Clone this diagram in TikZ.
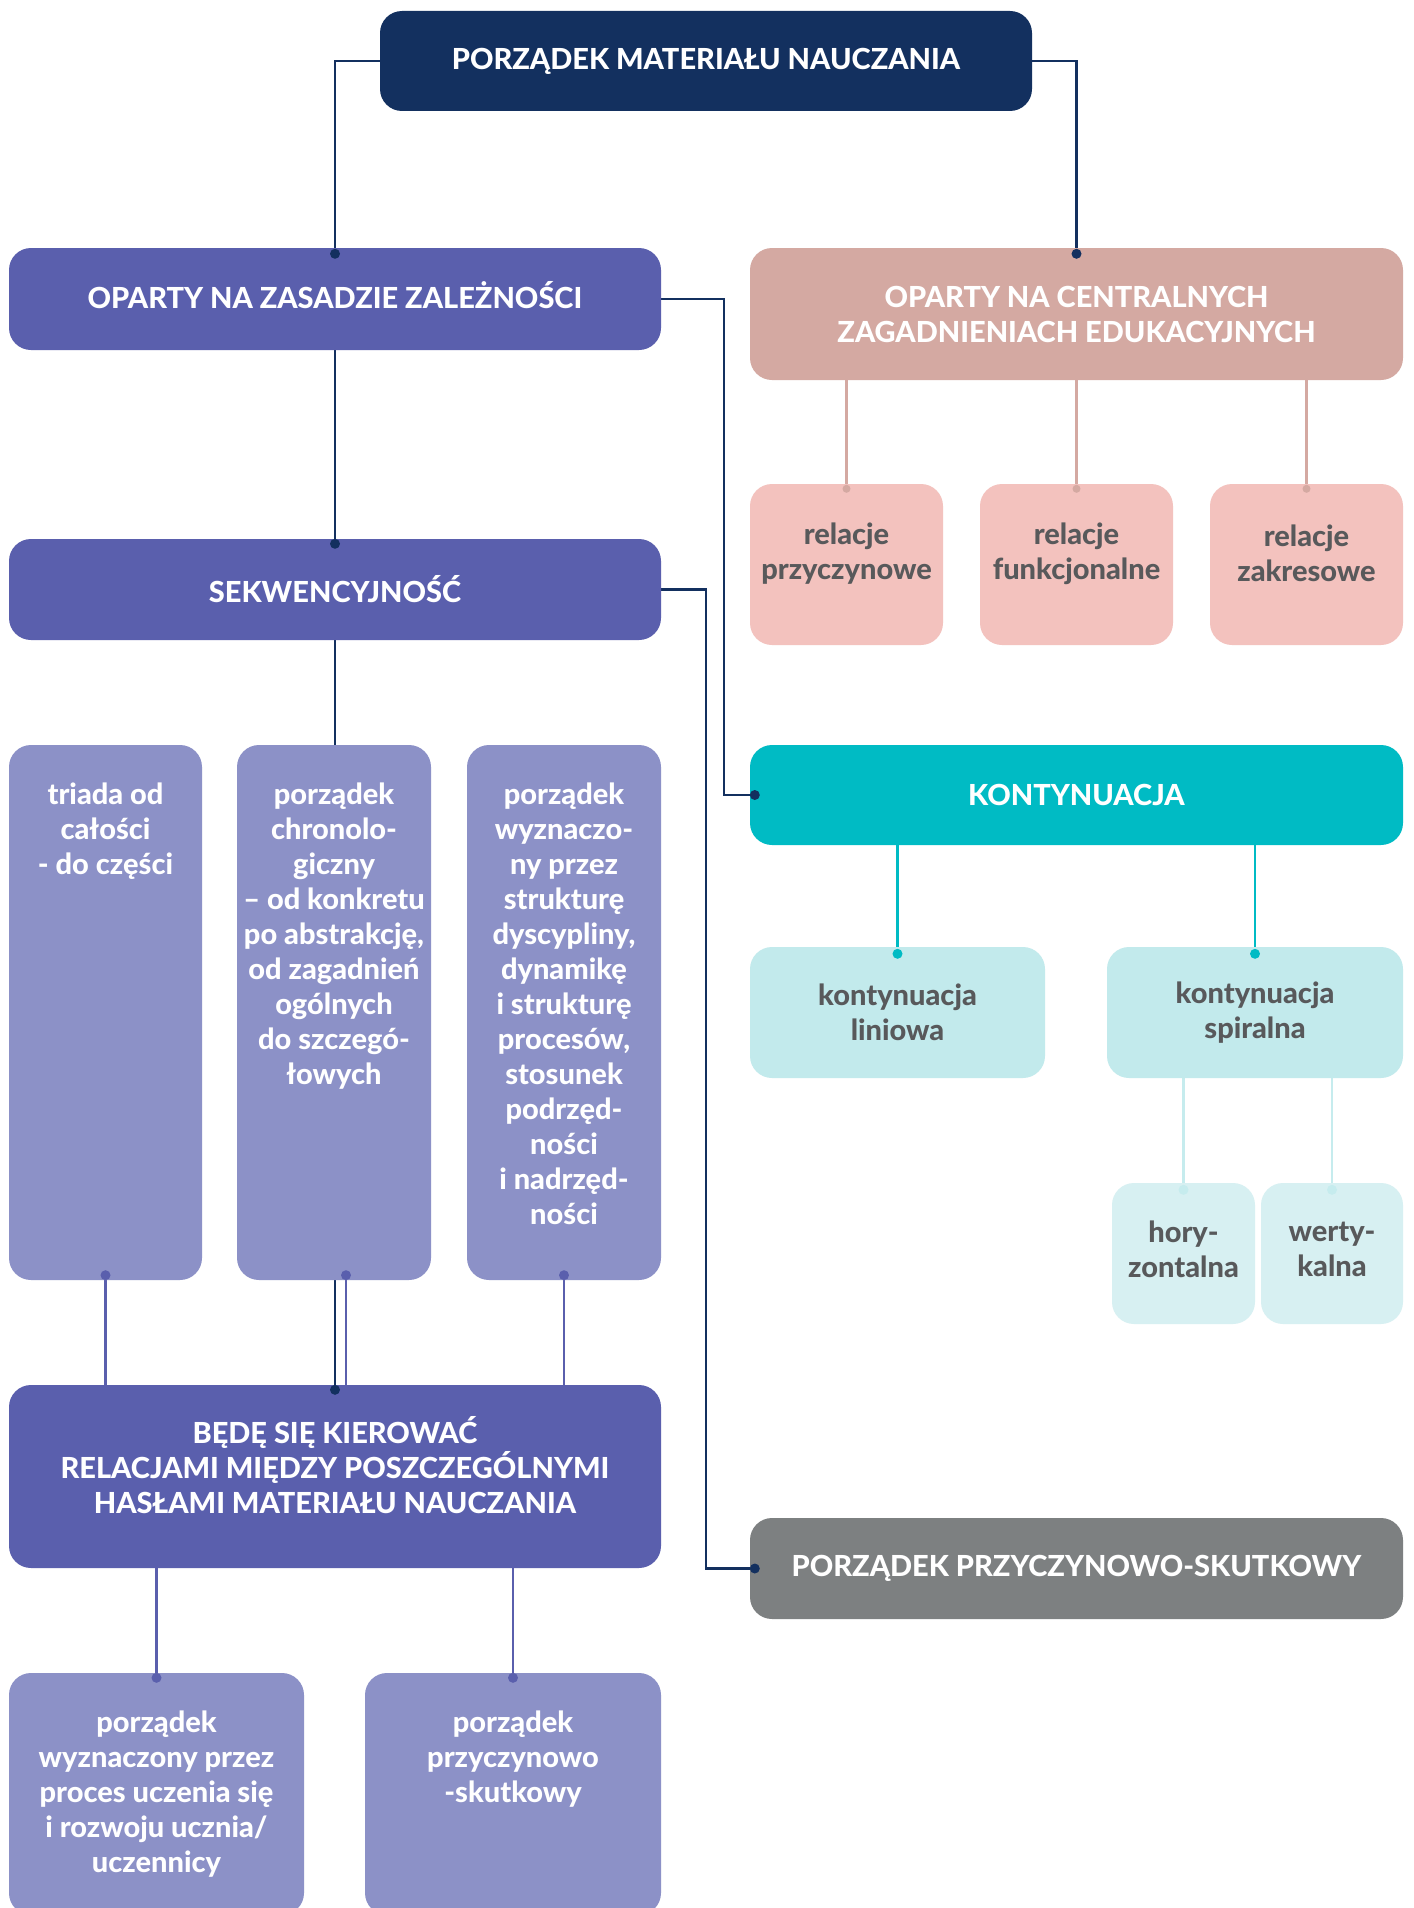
\documentclass[tikz,border=0pt]{standalone}
\usepackage{fontspec}
\setmainfont{Lato}[BoldFont={Lato Heavy}]
\usetikzlibrary{backgrounds,calc}
\definecolor{navy}{HTML}{13305F}
\definecolor{indigo}{HTML}{5A5FAD}
\definecolor{lavender}{HTML}{8C91C7}
\definecolor{dustypink}{HTML}{D4A9A2}
\definecolor{lightpink}{HTML}{F3C2BE}
\definecolor{tealc}{HTML}{00BBC4}
\definecolor{lightteal}{HTML}{C2EAEC}
\definecolor{lighterteal}{HTML}{D7F0F2}
\definecolor{spiralline}{HTML}{C6ECEE}
\definecolor{greybox}{HTML}{7D8081}
\definecolor{darktext}{HTML}{58595B}
\begin{document}
\begin{tikzpicture}[x=1pt,y=-1pt,
  box/.style={rectangle,rounded corners=22pt,inner sep=0pt,align=center,text=white,
    font=\fontsize{29}{35}\selectfont\bfseries},
  darkbox/.style={box,text=darktext},
  txt/.style={inner sep=0pt,align=center,text=white,
    font=\fontsize{29}{35}\selectfont\bfseries},
  darktxt/.style={txt,text=darktext},
  navyline/.style={draw=navy,line width=2.5pt},
  purpline/.style={draw=indigo,line width=2.5pt},
  pinkline/.style={draw=dustypink,line width=2.5pt},
  tealline/.style={draw=tealc,line width=2.5pt},
  lightline/.style={draw=spiralline,line width=2.5pt}]
\useasboundingbox (0,0) rectangle (1413,1908);
\clip (0,0) rectangle (1413,1908);

% boxes
\node[box,fill=navy,minimum width=652pt,minimum height=100pt] (top) at (706,61) {PORZĄDEK MATERIAŁU NAUCZANIA};
\node[box,fill=indigo,minimum width=652pt,minimum height=102pt] (zasada) at (335,299) {};
\node[txt] (zasadat) at ([yshift=4pt]zasada.center) {OPARTY NA ZASADZIE ZALEŻNOŚCI};
\node[box,fill=dustypink,minimum width=653pt,minimum height=132pt] (central) at (1076.5,314) {OPARTY NA CENTRALNYCH\\ZAGADNIENIACH EDUKACYJNYCH};
\node[box,fill=indigo,minimum width=652pt,minimum height=101pt] (sekw) at (335,589.5) {SEKWENCYJNOŚĆ};

\node[box,fill=lightpink,minimum width=193pt,minimum height=161pt] (rel1) at (846.5,564.5) {};
\node[box,fill=lightpink,minimum width=193pt,minimum height=161pt] (rel2) at (1076.5,564.5) {};
\node[box,fill=lightpink,minimum width=193pt,minimum height=161pt] (rel3) at (1306.5,564.5) {};
\node[darktxt] (rel1t) at ([yshift=11pt]rel1.center) {relacje\\przyczynowe};
\node[darktxt] (rel2t) at ([yshift=11pt]rel2.center) {relacje\\funkcjonalne};
\node[darktxt] (rel3t) at ([yshift=11pt]rel3.center) {relacje\\zakresowe};

\node[box,fill=tealc,minimum width=653pt,minimum height=100pt] (kont) at (1076.5,795) {KONTYNUACJA};
\node[darkbox,fill=lightteal,minimum width=295pt,minimum height=131pt] (lin) at (897.5,1012.5) {kontynuacja\\liniowa};
\node[darkbox,fill=lightteal,minimum width=296pt,minimum height=131pt] (spir) at (1255,1012.5) {kontynuacja\\spiralna};
\node[box,fill=lighterteal,minimum width=143pt,minimum height=141pt] (hory) at (1183.5,1253.5) {};
\node[box,fill=lighterteal,minimum width=142pt,minimum height=141pt] (werty) at (1332,1253.5) {};
\node[darktxt] (horyt) at ([yshift=4pt]hory.center) {hory-\\zontalna};
\node[darktxt] (wertyt) at ([yshift=4pt]werty.center) {werty-\\kalna};
\node[box,fill=greybox,minimum width=653pt,minimum height=101pt] (pps) at (1076.5,1568.5) {PORZĄDEK PRZYCZYNOWO-SKUTKOWY};

\node[box,fill=lavender,minimum width=193pt,minimum height=535pt] (tall1) at (105.5,1012.5) {};
\node[box,fill=lavender,minimum width=194pt,minimum height=535pt] (tall2) at (334,1012.5) {};
\node[box,fill=lavender,minimum width=194pt,minimum height=535pt] (tall3) at (564,1012.5) {};
\node[txt,anchor=north] (tall1t) at ([yshift=-38pt]tall1.north) {triada od\\całości\\- do części};
\node[txt,anchor=north] (tall2t) at ([yshift=-38pt]tall2.north) {porządek\\chronolo-\\giczny\\– od konkretu\\po abstrakcję,\\od zagadnień\\ogólnych\\do szczegó-\\łowych};
\node[txt,anchor=north] (tall3t) at ([yshift=-38pt]tall3.north) {porządek\\wyznaczo-\\ny przez\\strukturę\\dyscypliny,\\dynamikę\\i strukturę\\procesów,\\stosunek\\podrzęd-\\ności\\i nadrzęd-\\ności};

\node[box,fill=indigo,minimum width=652pt,minimum height=183pt] (bede) at (335,1476.5) {};
\node[txt] (bedet) at ([yshift=11pt]bede.center) {BĘDĘ SIĘ KIEROWAĆ\\RELACJAMI MIĘDZY POSZCZEGÓLNYMI\\HASŁAMI MATERIAŁU NAUCZANIA};

\node[box,fill=lavender,minimum width=295pt,minimum height=242pt] (bot1) at (156.5,1794) {};
\node[box,fill=lavender,minimum width=296pt,minimum height=242pt] (bot2) at (513,1794) {};
\node[txt,anchor=north] (bot1t) at ([yshift=-38pt]bot1.north) {porządek\\wyznaczony przez\\proces uczenia się\\i rozwoju ucznia/\\uczennicy};
\node[txt,anchor=north] (bot2t) at ([yshift=-38pt]bot2.north) {porządek\\przyczynowo\\-skutkowy};

\coordinate (t2c) at ([xshift=12pt]tall2.south);

% connectors
\begin{scope}[on background layer]
\fill[white] (0,0) rectangle (1413,1908);
\draw[navyline] (top.west) -| (zasada.north);
\draw[navyline] (top.east) -| (central.north);
\draw[navyline] (zasada.south) -- (sekw.north);
\draw[navyline] (sekw.south) -- (bede.north);
\draw[navyline] (zasada.east) -- ++(63,0) |- (kont.west);
\draw[navyline] (sekw.east) -- ++(45,0) |- (pps.west);
\draw[pinkline] (central.south -| rel1.north) -- (rel1.north);
\draw[pinkline] (central.south -| rel2.north) -- (rel2.north);
\draw[pinkline] (central.south -| rel3.north) -- (rel3.north);
\draw[tealline] (kont.south -| lin.north) -- (lin.north);
\draw[tealline] (kont.south -| spir.north) -- (spir.north);
\draw[lightline] (spir.south -| hory.north) -- (hory.north);
\draw[lightline] (spir.south -| werty.north) -- (werty.north);
\draw[purpline] (tall1.south) -- (bede.north -| tall1.south);
\draw[purpline] (t2c) -- (bede.north -| t2c);
\draw[purpline] (tall3.south) -- (bede.north -| tall3.south);
\draw[purpline] (bede.south -| bot1.north) -- (bot1.north);
\draw[purpline] (bede.south -| bot2.north) -- (bot2.north);
\end{scope}

% dots
\fill[navy] ([yshift=-6pt]zasada.north) circle (5pt);
\fill[navy] ([yshift=-6pt]central.north) circle (5pt);
\fill[navy] ([yshift=-5pt]sekw.north) circle (5pt);
\fill[navy] ([yshift=-5pt]bede.north) circle (5pt);
\fill[navy] ([xshift=5pt]kont.west) circle (5pt);
\fill[navy] ([xshift=5pt]pps.west) circle (5pt);
\fill[dustypink] ([yshift=-5pt]rel1.north) circle (4pt);
\fill[dustypink] ([yshift=-5pt]rel2.north) circle (4pt);
\fill[dustypink] ([yshift=-5pt]rel3.north) circle (4pt);
\fill[tealc] ([yshift=-7pt]lin.north) circle (5pt);
\fill[tealc] ([yshift=-7pt]spir.north) circle (5pt);
\fill[spiralline] ([yshift=-7pt]hory.north) circle (5pt);
\fill[spiralline] ([yshift=-7pt]werty.north) circle (5pt);
\fill[indigo] ([yshift=5pt]tall1.south) circle (5pt);
\fill[indigo] ([yshift=5pt]t2c) circle (5pt);
\fill[indigo] ([yshift=5pt]tall3.south) circle (5pt);
\fill[indigo] ([yshift=-5pt]bot1.north) circle (5pt);
\fill[indigo] ([yshift=-5pt]bot2.north) circle (5pt);
\end{tikzpicture}
\end{document}
